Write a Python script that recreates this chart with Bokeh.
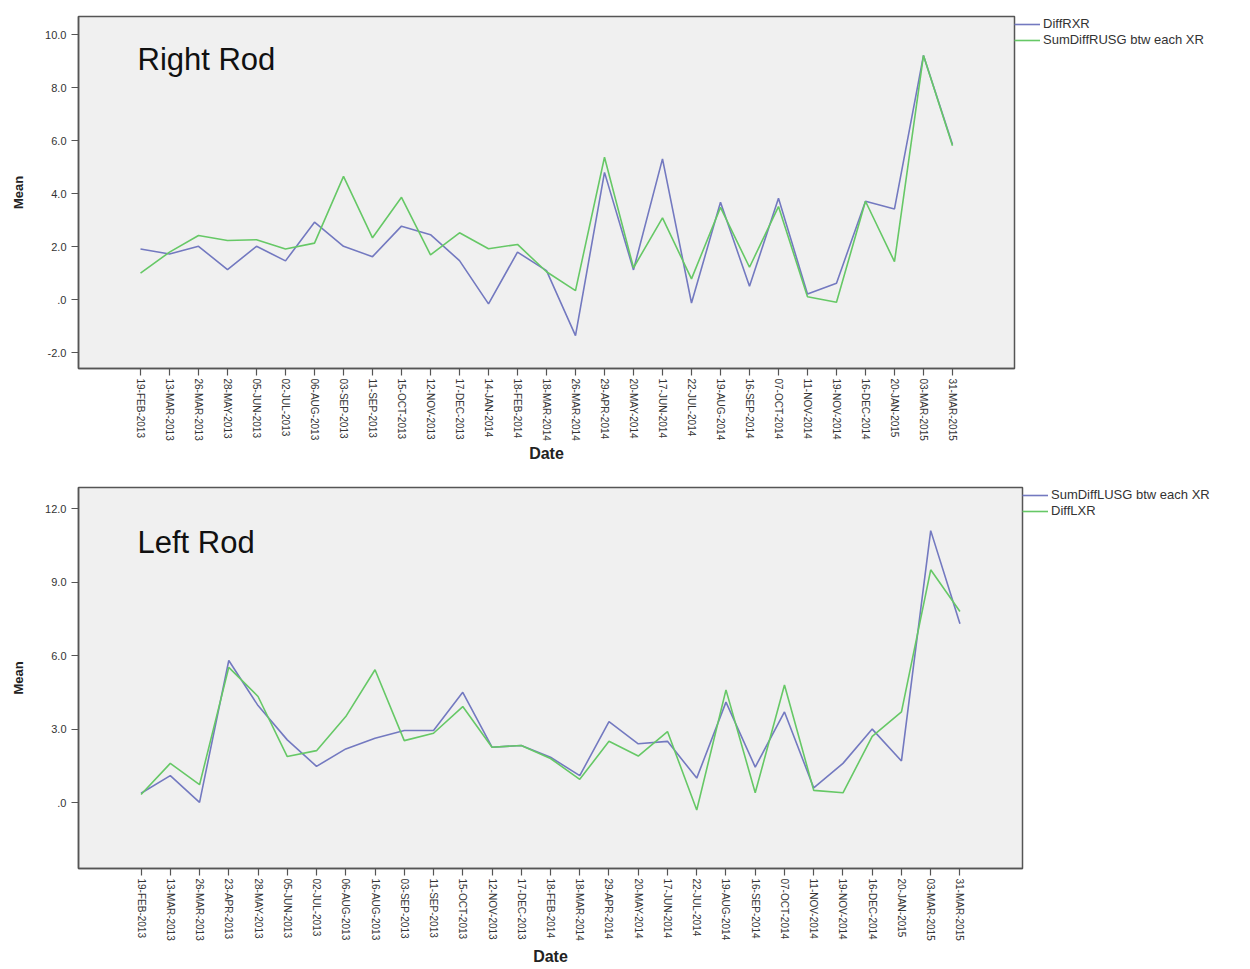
import math
from bokeh.plotting import figure
from bokeh.layouts import column
from bokeh.models import FactorRange, Range1d, FixedTicker, Legend, LegendItem, Label
from bokeh.embed import file_html
from bokeh.resources import INLINE

# ---------------- data ----------------
dates_right = ["19-FEB-2013", "13-MAR-2013", "26-MAR-2013", "28-MAY-2013", "05-JUN-2013",
               "02-JUL-2013", "06-AUG-2013", "03-SEP-2013", "11-SEP-2013", "15-OCT-2013",
               "12-NOV-2013", "17-DEC-2013", "14-JAN-2014", "18-FEB-2014", "18-MAR-2014",
               "26-MAR-2014", "29-APR-2014", "20-MAY-2014", "17-JUN-2014", "22-JUL-2014",
               "19-AUG-2014", "16-SEP-2014", "07-OCT-2014", "11-NOV-2014", "19-NOV-2014",
               "16-DEC-2014", "20-JAN-2015", "03-MAR-2015", "31-MAR-2015"]
diff_rxr = [1.91, 1.72, 2.01, 1.13, 2.01, 1.46, 2.92, 2.01, 1.62, 2.77, 2.45, 1.47, -0.16, 1.79,
            1.09, -1.36, 4.80, 1.12, 5.31, -0.13, 3.67, 0.50, 3.82, 0.21, 0.62, 3.71, 3.42, 9.21, 5.85]
sum_diff_rusg = [1.00, 1.79, 2.42, 2.23, 2.26, 1.91, 2.13, 4.65, 2.33, 3.86, 1.69, 2.52, 1.92, 2.08,
                 1.05, 0.34, 5.37, 1.20, 3.08, 0.78, 3.48, 1.22, 3.51, 0.11, -0.10, 3.71, 1.43, 9.21, 5.80]

dates_left = ["19-FEB-2013", "13-MAR-2013", "26-MAR-2013", "23-APR-2013", "28-MAY-2013",
              "05-JUN-2013", "02-JUL-2013", "06-AUG-2013", "16-AUG-2013", "03-SEP-2013",
              "11-SEP-2013", "15-OCT-2013", "12-NOV-2013", "17-DEC-2013", "18-FEB-2014",
              "18-MAR-2014", "29-APR-2014", "20-MAY-2014", "17-JUN-2014", "22-JUL-2014",
              "19-AUG-2014", "16-SEP-2014", "07-OCT-2014", "11-NOV-2014", "19-NOV-2014",
              "16-DEC-2014", "20-JAN-2015", "03-MAR-2015", "31-MAR-2015"]
sum_diff_lusg = [0.38, 1.10, 0.01, 5.80, 3.96, 2.56, 1.48, 2.19, 2.63, 2.94, 2.94, 4.50, 2.26, 2.33,
                 1.85, 1.10, 3.30, 2.40, 2.50, 1.00, 4.10, 1.45, 3.70, 0.60, 1.60, 3.00, 1.70, 11.10, 7.30]
diff_lxr = [0.33, 1.60, 0.73, 5.52, 4.33, 1.88, 2.12, 3.51, 5.42, 2.53, 2.83, 3.92, 2.26, 2.33,
            1.80, 0.95, 2.50, 1.90, 2.90, -0.30, 4.60, 0.40, 4.80, 0.50, 0.40, 2.70, 3.70, 9.50, 7.80]

right_ticks = [-2, 0, 2, 4, 6, 8, 10]
right_tick_labels = {-2: "-2.0", 0: ".0", 2: "2.0", 4: "4.0", 6: "6.0", 8: "8.0", 10: "10.0"}
left_ticks = [0, 3, 6, 9, 12]
left_tick_labels = {0: ".0", 3: "3.0", 6: "6.0", 9: "9.0", 12: "12.0"}

BLUE = "#7379c0"
GREEN = "#66c866"
FONT = "Liberation Sans"


def make_panel(dates, s1, s2, names, colors, title, yr, ticks, tick_labels,
               fw, fh, borders, title_pos, date_standoff):
    bl, br, bt, bb = borders
    p = figure(x_range=FactorRange(*dates, range_padding=0.113, range_padding_units="percent"),
               y_range=Range1d(*yr), frame_width=fw, frame_height=fh,
               output_backend="svg", toolbar_location=None,
               min_border_left=bl, min_border_right=br, min_border_top=bt, min_border_bottom=bb)
    p.border_fill_color = "white"
    p.background_fill_color = "#f0f0f0"
    p.outline_line_color = "#555555"
    p.outline_line_width = 1.5
    p.xgrid.visible = False
    p.ygrid.visible = False

    r1 = p.line(dates, s1, line_color=colors[0], line_width=1.6)
    r2 = p.line(dates, s2, line_color=colors[1], line_width=1.6)

    p.yaxis.ticker = FixedTicker(ticks=ticks)
    p.yaxis.major_label_overrides = tick_labels
    for ax in (p.xaxis[0], p.yaxis[0]):
        ax.axis_line_color = "#555555"
        ax.axis_line_width = 1.5
        ax.major_tick_line_color = "#555555"
        ax.major_tick_line_width = 1.2
        ax.major_tick_out = 7
        ax.major_tick_in = 0
        ax.minor_tick_line_color = None
        ax.major_label_text_font = FONT
        ax.major_label_text_color = "#333333"
        ax.axis_label_text_font = FONT
        ax.axis_label_text_font_style = "bold"
        ax.axis_label_text_color = "#222222"
    p.yaxis.major_label_text_font_size = "11px"
    p.xaxis.major_label_text_font_size = "10px"
    p.xaxis.major_label_orientation = -math.pi / 2
    p.xaxis.major_label_standoff = 3
    p.xaxis.axis_label = "Date"
    p.xaxis.axis_label_text_font_size = "16px"
    p.xaxis.axis_label_standoff = date_standoff
    p.yaxis.axis_label = "Mean"
    p.yaxis.axis_label_text_font_size = "13px"
    p.yaxis.axis_label_standoff = 16

    legend = Legend(items=[LegendItem(label=names[0], renderers=[r1]),
                           LegendItem(label=names[1], renderers=[r2])],
                    location="top_left", margin=0, padding=2, spacing=1,
                    glyph_width=26, glyph_height=12, label_height=12,
                    label_text_font=FONT, label_text_font_size="13px",
                    label_text_color="#333333", label_standoff=3,
                    border_line_color=None, background_fill_alpha=0)
    p.add_layout(legend, "right")

    p.add_layout(Label(x=title_pos[0], y=title_pos[1], x_units="screen", y_units="screen",
                       text=title, text_font=FONT, text_font_size="31px",
                       text_color="#111111", text_baseline="middle"))
    return p


p1 = make_panel(dates_right, diff_rxr, sum_diff_rusg,
                ["DiffRXR", "SumDiffRUSG btw each XR"], [BLUE, GREEN],
                "Right Rod", (-2.6, 10.68), right_ticks, right_tick_labels,
                936, 352, (76, 238, 16, 102), (59, 309), 1)
p2 = make_panel(dates_left, sum_diff_lusg, diff_lxr,
                ["SumDiffLUSG btw each XR", "DiffLXR"], [BLUE, GREEN],
                "Left Rod", (-2.69, 12.86), left_ticks, left_tick_labels,
                944, 381, (78, 228, 17, 99), (59, 326), 4)

layout = column(p1, p2, spacing=0)
open("out.html", "w").write(file_html(layout, INLINE))
